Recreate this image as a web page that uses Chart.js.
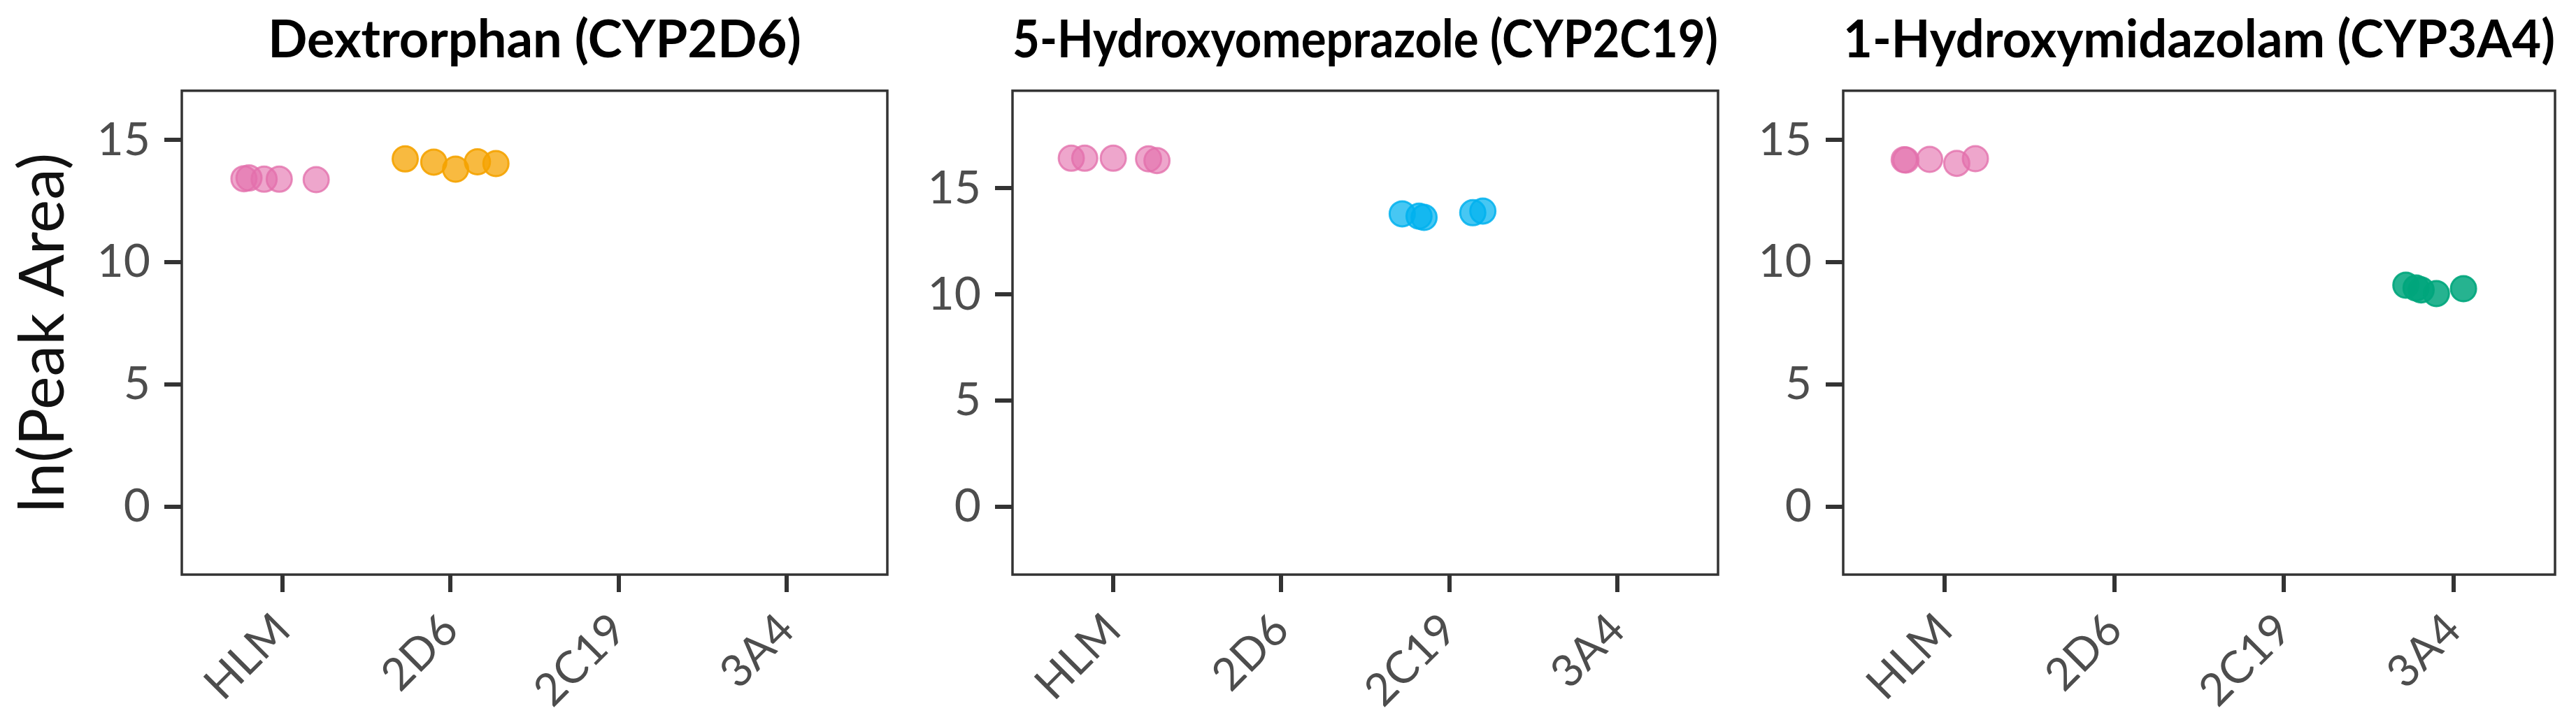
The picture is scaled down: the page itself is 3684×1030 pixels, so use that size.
<!DOCTYPE html>
<html lang="en">
<head>
<meta charset="UTF-8" />
<title>Metabolite peak areas by enzyme source</title>
<script src="https://cdn.jsdelivr.net/npm/chart.js"></script>
<style>
  body { margin: 0; background: #fff; width: 3684px; height: 1030px; overflow: hidden; position: relative; }
  .panel { position: absolute; top: 0; height: 1030px; }
</style>
</head>
<body>
<div class="panel" style="left:0;width:1290px"><canvas id="c1" width="1290" height="1030"></canvas></div>
<div class="panel" style="left:1290px;width:1188px"><canvas id="c2" width="1188" height="1030"></canvas></div>
<div class="panel" style="left:2478px;width:1206px"><canvas id="c3" width="1206" height="1030"></canvas></div>

<script>
  const enzymes = ['HLM', '2D6', '2C19', '3A4'];
  const yTicks = [0, 5, 10, 15];
  const panelTitles = ['Dextrorphan (CYP2D6)', '5-Hydroxyomeprazole (CYP2C19)', '1-Hydroxymidazolam (CYP3A4)'];

  // jitter offsets (in category units) and ln(peak area)
  const dexHlmOffset = [-0.23, -0.20, -0.11, -0.02, 0.20];
  const dexHlmValues = [13.42, 13.45, 13.40, 13.40, 13.38];
  const dex2d6Offset = [-0.27, -0.10, 0.03, 0.16, 0.27];
  const dex2d6Values = [14.23, 14.10, 13.81, 14.11, 14.04];

  const omeHlmOffset = [-0.25, -0.17, 0.00, 0.21, 0.26];
  const omeHlmValues = [16.42, 16.42, 16.42, 16.39, 16.31];
  const ome2c19Offset = [-0.28, -0.18, -0.15, 0.14, 0.20];
  const ome2c19Values = [13.80, 13.69, 13.63, 13.85, 13.93];

  const midHlmOffset = [-0.24, -0.23, -0.09, 0.07, 0.18];
  const midHlmValues = [14.20, 14.18, 14.21, 14.05, 14.24];
  const mid3a4Offset = [-0.28, -0.22, -0.19, -0.10, 0.06];
  const mid3a4Values = [9.06, 8.95, 8.87, 8.72, 8.92];

  const colors = {
    HLM:  ['rgba(227,112,172,0.62)', 'rgba(227,112,172,0.78)'],
    '2D6':  ['rgba(245,163,0,0.75)', 'rgba(245,163,0,0.9)'],
    '2C19': ['rgba(0,178,238,0.72)', 'rgba(0,178,238,0.85)'],
    '3A4':  ['rgba(0,166,124,0.85)', 'rgba(0,166,124,0.9)']
  };

  Chart.defaults.font.family = 'Lato, "Open Sans", sans-serif';

  const panelBorder = {
    id: 'panelBorder',
    afterDraw(chart) {
      const { ctx, chartArea: a } = chart;
      ctx.save();
      ctx.strokeStyle = '#333';
      ctx.lineWidth = 3.5;
      ctx.strokeRect(a.left, a.top, a.right - a.left, a.bottom - a.top);
      ctx.restore();
    }
  };

  function series(enzyme, offsets, values) {
    const idx = enzymes.indexOf(enzyme) + 1;
    return {
      label: enzyme,
      data: values.map((v, i) => ({ x: idx + offsets[i], y: v })),
      backgroundColor: colors[enzyme][0],
      borderColor: colors[enzyme][1],
      borderWidth: 3,
      pointRadius: 18
    };
  }

  function makePanel(id, title, datasets, yMin, yMax, axisWidth, padRight, yTitle) {
    new Chart(document.getElementById(id), {
      type: 'scatter',
      data: { datasets },
      plugins: [panelBorder],
      options: {
        responsive: false,
        animation: false,
        layout: { padding: { left: 0, right: padRight, top: 0, bottom: 0 } },
        plugins: {
          legend: { display: false },
          tooltip: { enabled: false },
          title: {
            display: true, text: title, fullSize: false, color: '#000',
            font: { size: 74, weight: 'bold' },
            padding: { top: 14, bottom: 27 }
          }
        },
        scales: {
          x: {
            type: 'linear', min: 0.4, max: 4.6,
            afterBuildTicks: s => { s.ticks = enzymes.map((e, i) => ({ value: i + 1 })); },
            afterFit: s => { s.height = 208; },
            border: { display: false },
            grid: { drawOnChartArea: false, tickLength: 25, lineWidth: 6, color: '#333' },
            ticks: {
              callback: v => enzymes[v - 1], autoSkip: false,
              minRotation: 45, maxRotation: 45, padding: 16,
              color: '#4d4d4d', font: { size: 64 }
            }
          },
          y: {
            min: yMin, max: yMax,
            afterBuildTicks: s => { s.ticks = yTicks.map(v => ({ value: v })); },
            afterFit: s => { s.width = axisWidth; },
            border: { display: false },
            grid: { drawOnChartArea: false, tickLength: 25, lineWidth: 6, color: '#333' },
            ticks: { padding: 20, color: '#4d4d4d', font: { size: 66 } },
            title: {
              display: !!yTitle, text: yTitle || '', color: '#111',
              font: { size: 90 }, padding: { top: 8, bottom: 0 }
            }
          }
        }
      }
    });
  }

  makePanel('c1', panelTitles[0], [
    series('HLM', dexHlmOffset, dexHlmValues),
    series('2D6', dex2d6Offset, dex2d6Values)
  ], -2.78, 17.02, 260, 12, 'ln(Peak Area)');

  makePanel('c2', panelTitles[1], [
    series('HLM', omeHlmOffset, omeHlmValues),
    series('2C19', ome2c19Offset, ome2c19Values)
  ], -3.2, 19.6, 158, 11, null);

  makePanel('c3', panelTitles[2], [
    series('HLM', midHlmOffset, midHlmValues),
    series('3A4', mid3a4Offset, mid3a4Values)
  ], -2.78, 17.02, 158, 30, null);
</script>
</body>
</html>
